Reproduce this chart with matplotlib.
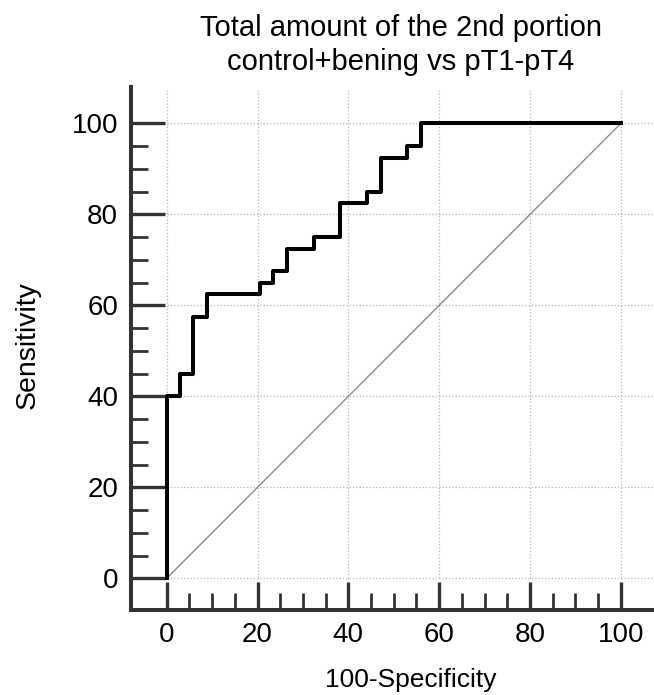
import matplotlib
matplotlib.use('Agg')
import matplotlib.pyplot as plt
import numpy as np

plt.rcParams['font.family'] = ['Liberation Sans', 'DejaVu Sans']

# ROC curve points (100-Specificity, Sensitivity)
fpr = [0, 0, 2.9, 5.9, 8.8, 20.6, 23.5, 26.5, 32.4, 38.2, 44.1, 47.1, 52.9, 55.9, 100]
tpr = [0, 40, 45, 57.5, 62.5, 65, 67.5, 72.5, 75, 82.5, 85, 92.5, 95, 100, 100]

ref_line = [0, 100]
major_ticks = [0, 20, 40, 60, 80, 100]
minor_ticks = [5, 10, 15, 25, 30, 35, 45, 50, 55, 65, 70, 75, 85, 90, 95]

title_lines = 'Total amount of the 2nd portion\ncontrol+bening vs pT1-pT4'

fig = plt.figure(figsize=(6.54, 6.95), dpi=100)
ax = fig.add_axes([0.1998, 0.123, 0.8002, 0.7518])

xmin, xmax = -7.93, 107.3
ymin, ymax = -6.86, 108.0
ax.set_xlim(xmin, xmax)
ax.set_ylim(ymin, ymax)

# dotted grid only inside the data area
ax.vlines(major_ticks, 0, 107.3, colors='#b5b5b5', linestyles=':', linewidth=0.9, zorder=1)
ax.hlines(major_ticks, 0, xmax, colors='#b5b5b5', linestyles=':', linewidth=0.9, zorder=1)

ax.plot(ref_line, ref_line, color='#8c8c8c', linewidth=1.0, zorder=2)
ax.step(fpr, tpr, where='post', color='black', linewidth=2.9, zorder=3)

for side in ['top', 'right']:
    ax.spines[side].set_visible(False)
for side in ['left', 'bottom']:
    ax.spines[side].set_linewidth(2.9)
    ax.spines[side].set_color('#333333')
    ax.spines[side].set_capstyle('projecting')

ax.set_xticks(major_ticks)
ax.set_yticks(major_ticks)
ax.set_xticks(minor_ticks, minor=True)
ax.set_yticks(minor_ticks, minor=True)
ax.tick_params(axis='x', which='major', direction='in', length=20, width=2.4,
               color='#333333', labelsize=20, pad=9)
ax.tick_params(axis='y', which='major', direction='in', length=24.5, width=2.4,
               color='#333333', labelsize=20, pad=9)
ax.tick_params(axis='both', which='minor', direction='in', length=12, width=2.0,
               color='#333333')

fig.text(401 / 654, 1 - 45 / 695, title_lines, ha='center', va='center',
         fontsize=21, linespacing=1.25)
fig.text(28 / 654, 1 - 345 / 695, 'Sensitivity', rotation=90, ha='center',
         va='center', fontsize=20.5)
fig.text(411 / 654, 1 - 680 / 695, '100-Specificity', ha='center', va='center',
         fontsize=19)

fig.savefig('out.png', dpi=100)
